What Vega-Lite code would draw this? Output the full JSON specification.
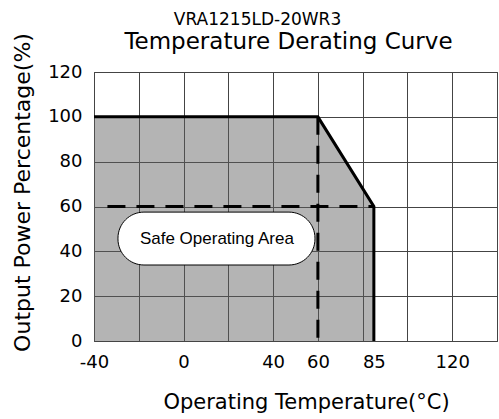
{
  "$schema": "https://vega.github.io/schema/vega-lite/v6.json",
  "autosize": "none",
  "width": 403,
  "height": 269,
  "padding": {"left": 94, "top": 72, "right": 2, "bottom": 78},
  "background": "white",
  "config": {
    "font": "DejaVu Sans",
    "view": {"stroke": "#333333", "strokeWidth": 1}
  },
  "title": {
    "text": "VRA1215LD-20WR3",
    "fontSize": 17,
    "fontWeight": "normal",
    "color": "#000000",
    "anchor": "middle",
    "dx": -38,
    "offset": 1
  },
  "datasets": {
    "area": [
      {"t": -40, "p": 100},
      {"t": 60, "p": 100},
      {"t": 85, "p": 60}
    ],
    "curve": [
      {"t": -40, "p": 100, "o": 1},
      {"t": 60, "p": 100, "o": 2},
      {"t": 85, "p": 60, "o": 3},
      {"t": 85, "p": 0, "o": 4}
    ],
    "dashH": [{"t": -34, "p": 60}, {"t": 85, "p": 60}],
    "dashV": [{"t": 60, "p": 100}, {"t": 60, "p": 0}],
    "box": [{"x1": -29.3, "x2": 58.7, "y1": 33.9, "y2": 57.5, "tx": 14.9, "ty": 45.5, "label": "Safe Operating Area"}]
  },
  "resolve": {"axis": {"x": "independent"}},
  "layer": [
    {
      "data": {"name": "area"},
      "mark": {"type": "area", "color": "#5e5e5e", "opacity": 0.465},
      "encoding": {
        "x": {
          "field": "t", "type": "quantitative",
          "scale": {"domain": [-40, 140], "nice": false, "zero": false},
          "axis": {
            "orient": "top",
            "values": [-40, -20, 0, 20, 40, 60, 80, 100, 120, 140],
            "grid": true, "gridColor": "#444444", "gridWidth": 1, "gridOpacity": 1,
            "labels": false, "ticks": false, "domain": false,
            "title": "Temperature Derating Curve",
            "titleFontSize": 23, "titleFontWeight": "normal", "titleColor": "#000000",
            "titlePadding": 19, "titleX": 194
          }
        },
        "y": {
          "field": "p", "type": "quantitative",
          "scale": {"domain": [0, 120], "nice": false},
          "axis": {
            "values": [0, 20, 40, 60, 80, 100, 120],
            "grid": true, "gridColor": "#444444", "gridWidth": 1, "gridOpacity": 1,
            "ticks": false, "domain": false,
            "labelFontSize": 18, "labelColor": "#000000", "labelPadding": 12,
            "title": "Output Power Percentage(%)",
            "titleFontSize": 22, "titleFontWeight": "normal", "titleColor": "#000000",
            "titleX": -60, "titleY": 120
          }
        }
      }
    },
    {
      "data": {"name": "dashH"},
      "mark": {"type": "line", "color": "#000000", "strokeWidth": 3, "strokeDash": [18, 11]},
      "encoding": {
        "x": {"field": "t", "type": "quantitative", "axis": null},
        "y": {"field": "p", "type": "quantitative"}
      }
    },
    {
      "data": {"name": "dashV"},
      "mark": {"type": "line", "color": "#000000", "strokeWidth": 3, "strokeDash": [18, 11]},
      "encoding": {
        "x": {"field": "t", "type": "quantitative", "axis": null},
        "y": {"field": "p", "type": "quantitative"}
      }
    },
    {
      "data": {"name": "curve"},
      "mark": {"type": "line", "color": "#000000", "strokeWidth": 3},
      "encoding": {
        "x": {
          "field": "t", "type": "quantitative",
          "axis": {
            "orient": "bottom",
            "values": [-40, 0, 40, 60, 85, 120],
            "grid": false, "ticks": false, "domain": false,
            "labelFontSize": 18, "labelColor": "#000000", "labelPadding": 12,
            "labelFlush": false,
            "labelExpr": "'' + datum.value",
            "title": "Operating Temperature(°C)",
            "titleFontSize": 21, "titleFontWeight": "normal", "titleColor": "#000000",
            "titlePadding": 20, "titleX": 212
          }
        },
        "y": {"field": "p", "type": "quantitative"},
        "order": {"field": "o"}
      }
    },
    {
      "data": {"name": "box"},
      "mark": {"type": "rect", "fill": "#ffffff", "stroke": "#000000", "strokeWidth": 1, "cornerRadius": 26},
      "encoding": {
        "x": {"field": "x1", "type": "quantitative", "axis": null},
        "x2": {"field": "x2"},
        "y": {"field": "y1", "type": "quantitative"},
        "y2": {"field": "y2"}
      }
    },
    {
      "data": {"name": "box"},
      "mark": {"type": "text", "fontSize": 17, "font": "Liberation Sans", "color": "#000000"},
      "encoding": {
        "x": {"field": "tx", "type": "quantitative", "axis": null},
        "y": {"field": "ty", "type": "quantitative"},
        "text": {"field": "label"}
      }
    }
  ]
}
